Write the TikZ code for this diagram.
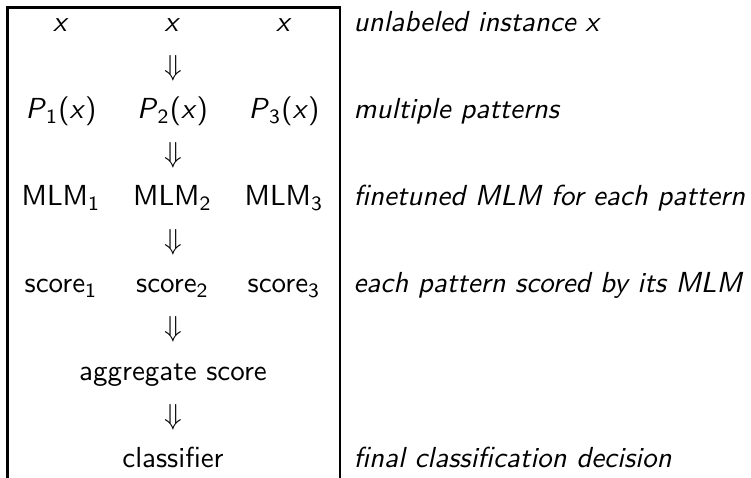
\documentclass[tikz,border=0pt]{standalone}
\usepackage{tikz}
\usetikzlibrary{positioning}
\renewcommand{\familydefault}{\sfdefault}
\newcommand{\mv}[1]{\textit{#1}}
\newcommand{\sub}[1]{\textsubscript{#1}}

\begin{document}
\begin{tikzpicture}[x=0.345pt, y=-0.345pt,
    every node/.style={font=\sffamily, inner sep=0pt},
    cell/.style={anchor=base},
    dnarrow/.style={anchor=base},
    note/.style={anchor=base west, font=\sffamily\itshape}]
  \useasboundingbox (0,0) rectangle (751,478);
  % frame round the pipeline
  \draw[line width=1pt] (7.5,478) -- (7.5,7.5) -- (340,7.5) -- (340,478);
  % one column per pattern
  \foreach \k in {1,2,3} {
    \node[cell] (x\k) at ({61+111.5*(\k-1)},32) {\mv{x}};
    \node[cell] (p\k) at ({61+111.5*(\k-1)},119) {\mv{P}\sub{\k}(\mv{x})};
    \node[cell] (mlm\k) at ({61+111.5*(\k-1)},206) {MLM\sub{\k}};
    \node[cell] (score\k) at ({61+111.5*(\k-1)},293) {score\sub{\k}};
  }
  \node[cell] (agg) at (173,381) {aggregate score};
  \node[cell] (clf) at (173,468) {classifier};
  % arrows between the stages
  \foreach \y [count=\i] in {75.5,162.5,249.5,337,424.5}
    \node[dnarrow] (arr\i) at (173,\y) {$\Downarrow$};
  % comments on the right
  \node[note] (nx) at (353,32) {unlabeled instance x};
  \node[note] (np) at (353,119) {multiple patterns};
  \node[note] (nmlm) at (353,206) {finetuned MLM for each pattern};
  \node[note] (nscore) at (353,293) {each pattern scored by its MLM};
  \node[note] (nclf) at (353,468) {final classification decision};
\end{tikzpicture}
\end{document}
